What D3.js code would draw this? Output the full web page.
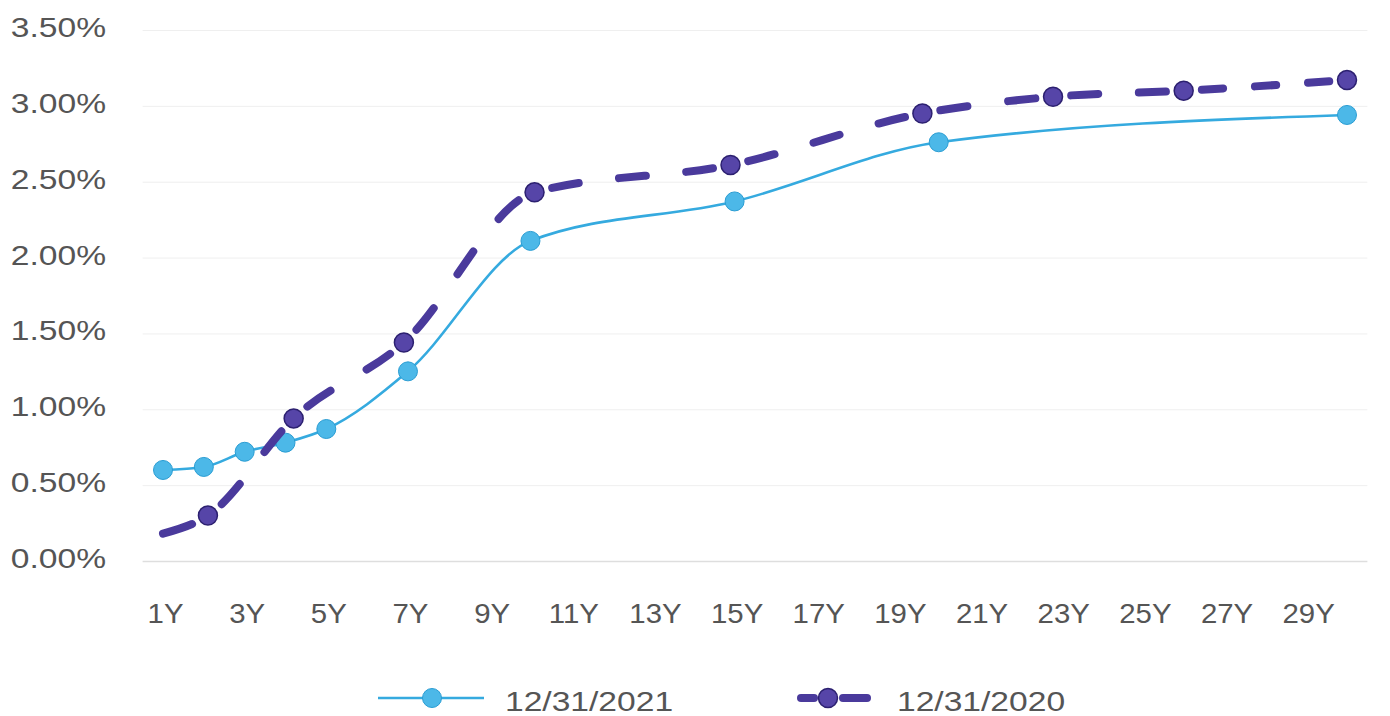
<!DOCTYPE html>
<html>
<head>
<meta charset="utf-8">
<script src="https://cdn.jsdelivr.net/npm/d3@7"></script>
<style>
  html, body { margin: 0; padding: 0; background: #ffffff; }
  svg { display: block; }
  text { font-family: "Liberation Sans", Arial, sans-serif; fill: #555555; }
</style>
</head>
<body>
<svg id="chart" width="1390" height="716"></svg>
<script>
// Yield curve values (percent) by tenor in years
const yTicks = [0, 0.5, 1, 1.5, 2, 2.5, 3, 3.5];
const xTickYears = [1, 3, 5, 7, 9, 11, 13, 15, 17, 19, 21, 23, 25, 27, 29];
const seriesNames = ["12/31/2021", "12/31/2020"];

const tenors2021 = [1, 2, 3, 4, 5, 7, 10, 15, 20, 30];
const yields2021 = [0.60, 0.62, 0.72, 0.78, 0.87, 1.25, 2.11, 2.37, 2.76, 2.94];

const tenors2020 = [1, 2.1, 4.2, 6.9, 10.1, 14.9, 19.6, 22.8, 26, 30];
const yields2020 = [0.18, 0.30, 0.94, 1.44, 2.43, 2.61, 2.95, 3.06, 3.10, 3.17];

const colors = { y2021: "#35aadf", y2021Fill: "#4cb8e8", y2021Edge: "#2a9dd3",
                 y2020: "#4a3a9c", y2020Fill: "#5645a8", y2020Edge: "#2c2070" };

const svg = d3.select("#chart");
const plot = { left: 142.6, right: 1367.4, top: 30, bottom: 561 };

const x = d3.scaleLinear().domain([0.5, 30.5]).range([plot.left, plot.right]);
const y = d3.scaleLinear().domain([0, 3.5]).range([plot.bottom, plot.top]);

// Horizontal gridlines + y labels
const yAxis = svg.append("g")
  .attr("transform", `translate(${plot.left},0)`)
  .call(d3.axisLeft(y).tickValues(yTicks)
    .tickFormat(d => d.toFixed(2) + "%")
    .tickSizeInner(-(plot.right - plot.left)).tickSizeOuter(0));
yAxis.select(".domain").remove();
yAxis.selectAll(".tick line")
  .attr("stroke", d => d === 0 ? "#dedede" : "#efefef")
  .attr("stroke-width", d => d === 0 ? 1.5 : 1);
yAxis.selectAll(".tick text")
  .attr("x", 0).attr("dy", null)
  .attr("dominant-baseline", "central")
  .attr("text-anchor", "end")
  .attr("font-size", 28)
  .attr("fill", "#555")
  .attr("transform", `translate(${106 - plot.left},-3) scale(1.2,1)`);

// Category labels along the bottom
const xAxis = svg.append("g")
  .attr("transform", `translate(0,${plot.bottom})`)
  .call(d3.axisBottom(x).tickValues(xTickYears).tickFormat(d => d + "Y")
    .tickSize(0).tickPadding(42));
xAxis.select(".domain").remove();
xAxis.selectAll(".tick text")
  .attr("font-size", 28)
  .attr("fill", "#555")
  .attr("transform", "translate(2,0) scale(1.05,1)");

const line = d3.line().curve(d3.curveMonotoneX)
  .x(d => x(d[0])).y(d => y(d[1]));

const data2021 = d3.zip(tenors2021, yields2021);
const data2020 = d3.zip(tenors2020, yields2020);

// 12/31/2021 – solid line with markers
svg.append("path")
  .attr("d", line(data2021))
  .attr("fill", "none")
  .attr("stroke", colors.y2021)
  .attr("stroke-width", 2.6);
svg.append("g").selectAll("circle")
  .data(data2021).join("circle")
  .attr("cx", d => x(d[0])).attr("cy", d => y(d[1]))
  .attr("r", 9.5)
  .attr("fill", colors.y2021Fill)
  .attr("stroke", colors.y2021Edge).attr("stroke-width", 1);

// 12/31/2020 – heavy dashed line, dashes laid out per segment between markers
const path2020 = svg.append("path")
  .attr("d", line(data2020))
  .attr("fill", "none")
  .attr("stroke", colors.y2020)
  .attr("stroke-width", 8)
  .attr("stroke-linecap", "round");

(function layoutDashes() {
  const node = path2020.node();
  const total = node.getTotalLength();
  // arc length at each vertex (curve is monotone in x)
  const lengthAtX = px => {
    let lo = 0, hi = total;
    for (let i = 0; i < 40; i++) {
      const mid = (lo + hi) / 2;
      if (node.getPointAtLength(mid).x < px) lo = mid; else hi = mid;
    }
    return (lo + hi) / 2;
  };
  const stops = data2020.map((d, i) => i === 0 ? 0 : (i === data2020.length - 1 ? total : lengthAtX(x(d[0]))));
  const pad = 18, dash = 26, gap = 39;
  const intervals = [];
  for (let i = 0; i < stops.length - 1; i++) {
    const a = stops[i] + (i === 0 ? 0 : pad);
    const b = stops[i + 1] - pad;
    const avail = b - a;
    if (avail <= 2) continue;
    const n = Math.max(1, Math.round((avail + gap) / (dash + gap)));
    const k = avail / (n * dash + (n - 1) * gap);
    let p = a;
    for (let j = 0; j < n; j++) {
      intervals.push([p, p + dash * k]);
      p += dash * k + gap * k;
    }
  }
  const s0 = intervals[0][0];
  const arr = [];
  intervals.forEach((iv, i) => {
    arr.push(iv[1] - iv[0]);
    const next = i < intervals.length - 1 ? intervals[i + 1][0] : total + 50 + s0;
    arr.push(next - iv[1]);
  });
  path2020.attr("stroke-dasharray", arr.map(v => v.toFixed(2)).join(" "))
    .attr("stroke-dashoffset", -s0);
})();

svg.append("g").selectAll("circle")
  .data(data2020.slice(1)).join("circle")
  .attr("cx", d => x(d[0])).attr("cy", d => y(d[1]))
  .attr("r", 9.5)
  .attr("fill", colors.y2020Fill)
  .attr("stroke", colors.y2020Edge).attr("stroke-width", 1.5);

// Legend
const legendY = 698;
const lg = svg.append("g");
lg.append("line").attr("x1", 378).attr("x2", 484).attr("y1", legendY).attr("y2", legendY)
  .attr("stroke", colors.y2021).attr("stroke-width", 2.6);
lg.append("circle").attr("cx", 432).attr("cy", legendY).attr("r", 9.5)
  .attr("fill", colors.y2021Fill).attr("stroke", colors.y2021Edge).attr("stroke-width", 1);
lg.append("text").text(seriesNames[0])
  .attr("transform", `translate(505,${legendY + 3}) scale(1.2,1)`)
  .attr("dominant-baseline", "central").attr("font-size", 28);

[[801, 814], [843, 867]].forEach(([a, b]) => {
  lg.append("line").attr("x1", a).attr("x2", b).attr("y1", legendY).attr("y2", legendY)
    .attr("stroke", colors.y2020).attr("stroke-width", 8).attr("stroke-linecap", "round");
});
lg.append("circle").attr("cx", 828).attr("cy", legendY).attr("r", 9.5)
  .attr("fill", colors.y2020Fill).attr("stroke", colors.y2020Edge).attr("stroke-width", 1.5);
lg.append("text").text(seriesNames[1])
  .attr("transform", `translate(897,${legendY + 3}) scale(1.2,1)`)
  .attr("dominant-baseline", "central").attr("font-size", 28);
</script>
</body>
</html>
